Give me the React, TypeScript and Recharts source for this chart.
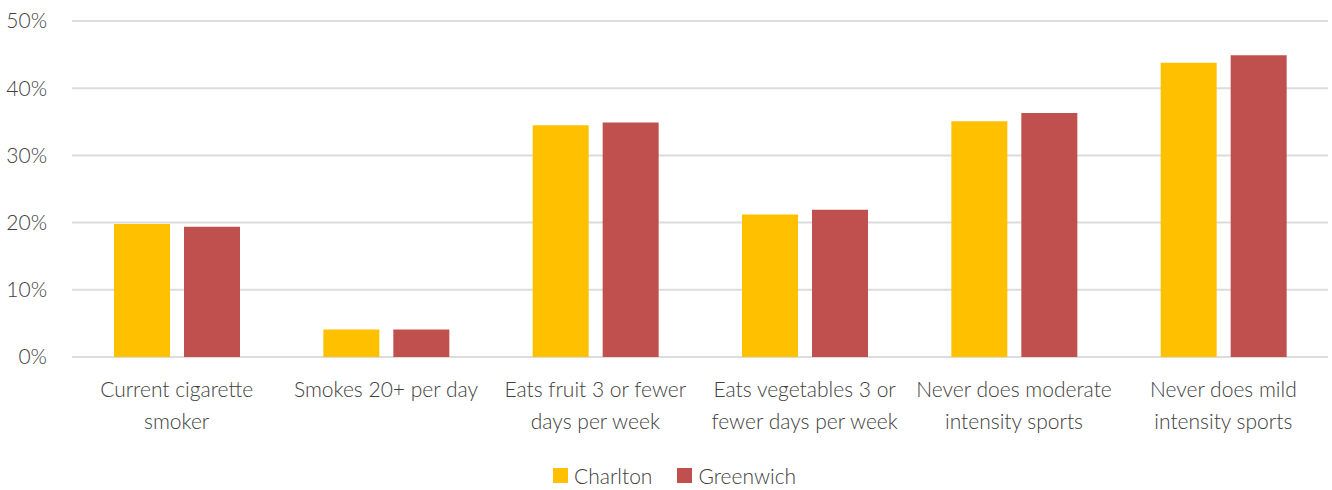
import { Bar, BarChart, CartesianGrid, Legend, XAxis, YAxis } from "recharts";

const categories = [
  "Current cigarette\nsmoker",
  "Smokes 20+ per day",
  "Eats fruit 3 or fewer\ndays per week",
  "Eats vegetables 3 or\nfewer days per week",
  "Never does moderate\nintensity sports",
  "Never does mild\nintensity sports",
];
const charlton = [19.8, 4.1, 34.5, 21.2, 35.1, 43.8];
const greenwich = [19.4, 4.1, 34.9, 21.9, 36.3, 44.9];
const yTicks = [0, 10, 20, 30, 40, 50];

const FONT = "Lato, 'Open Sans', sans-serif";
const TEXT = "#404040";
const YELLOW = "#FFC000";
const RED = "#C0504D";

const data = categories.map((name, i) => ({
  name,
  charlton: charlton[i],
  greenwich: greenwich[i],
}));

const CategoryTick = ({ x, y, payload }: any) => {
  const lines = String(payload.value).split("\n");
  return (
    <text x={x} y={y} textAnchor="middle" fill={TEXT} fontSize={21} fontWeight={300} fontFamily={FONT}>
      {lines.map((l: string, i: number) => (
        <tspan key={i} x={x} dy={i === 0 ? 14 : 31.5}>
          {l}
        </tspan>
      ))}
    </text>
  );
};

const LegendContent = () => (
  <div
    style={{
      display: "flex",
      alignItems: "center",
      height: 30,
      fontFamily: FONT,
      fontSize: 21,
      fontWeight: 300,
      color: TEXT,
    }}
  >
    <span style={{ width: 15, height: 15, background: YELLOW, marginRight: 6 }} />
    <span style={{ marginRight: 25 }}>Charlton</span>
    <span style={{ width: 15, height: 15, background: RED, marginRight: 6 }} />
    <span>Greenwich</span>
  </div>
);

export default function App() {
  return (
    <div style={{ position: "absolute", left: 0, top: 0, background: "#fff" }}>
      <BarChart
        width={1332}
        height={490}
        data={data}
        margin={{ top: 21, right: 4, left: 0, bottom: 0 }}
        barSize={56}
        barGap={14}
      >
        <CartesianGrid vertical={false} stroke="#dcdcdc" strokeWidth={2} />
        <XAxis
          dataKey="name"
          axisLine={false}
          tickLine={false}
          tickSize={0}
          tickMargin={26}
          height={103}
          interval={0}
          tick={<CategoryTick />}
        />
        <YAxis
          domain={[0, 50]}
          ticks={yTicks}
          tickFormatter={(v: number) => `${v}%`}
          axisLine={false}
          tickLine={false}
          tickSize={0}
          tickMargin={25}
          width={72}
          tick={{ fill: TEXT, fontSize: 21, fontWeight: 300, fontFamily: FONT }}
        />
        <Legend
          verticalAlign="bottom"
          content={<LegendContent />}
          wrapperStyle={{ top: 460, left: 553, width: "auto" }}
        />
        <Bar dataKey="charlton" name="Charlton" fill={YELLOW} isAnimationActive={false} />
        <Bar dataKey="greenwich" name="Greenwich" fill={RED} isAnimationActive={false} />
      </BarChart>
    </div>
  );
}
